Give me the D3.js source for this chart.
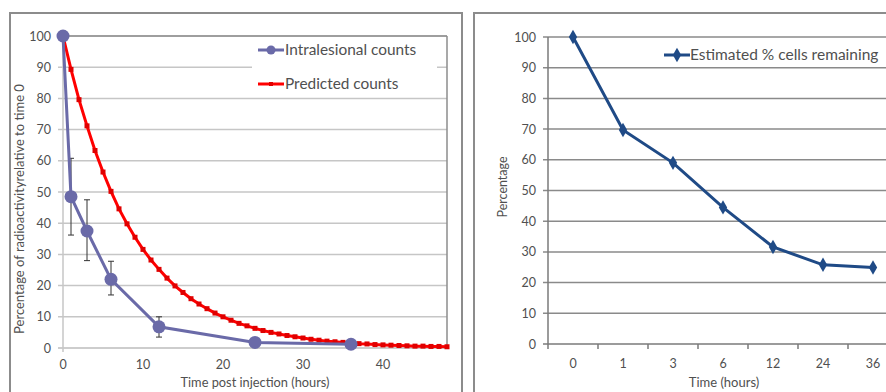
<!DOCTYPE html>
<html>
<head>
<meta charset="utf-8">
<script src="https://cdn.jsdelivr.net/npm/d3@7"></script>
<style>
  body { margin: 0; background: #fff; }
  text { font-family: Lato, "Open Sans", sans-serif; }
</style>
</head>
<body>
<svg id="chart" width="886" height="392"></svg>
<script>
// left chart: intralesional counts (hours, percent, error low, error high)
var obsHours = [0, 1, 3, 6, 12, 24, 36];
var obsValues = [100, 48.5, 37.5, 22, 6.8, 1.8, 1.2];
var obsLow = [100, 36.2, 28, 17, 3.5, 1.8, 1.2];
var obsHigh = [100, 60.8, 47.5, 27.8, 10, 1.8, 1.2];

// predicted counts, one marker per hour 0..48
var predValues = [100, 89.3, 79.6, 71.2, 63.3, 56.4, 50.2, 44.6, 39.8, 35.5, 31.6,
  28.2, 25.2, 22.4, 19.9, 17.8, 15.8, 14.1, 12.6, 11.2, 10, 8.9, 7.9, 7.1, 6.3,
  5.6, 5, 4.5, 4, 3.6, 3.2, 2.8, 2.5, 2.2, 2, 1.8, 1.6, 1.4, 1.3, 1.1, 1,
  0.9, 0.8, 0.7, 0.6, 0.6, 0.5, 0.5, 0.4];

var leftXTicks = [0, 10, 20, 30, 40];
var yTicks = [0, 10, 20, 30, 40, 50, 60, 70, 80, 90, 100];

// right chart: estimated % cells remaining
var timeLabels = ["0", "1", "3", "6", "12", "24", "36"];
var cellsRemaining = [100, 69.7, 59, 44.5, 31.6, 25.8, 24.9];

var txt = "#505050";
var svg = d3.select("#chart");

// frames
var frame = svg.append("g").attr("fill", "none").attr("stroke", "#8c8c8c").attr("stroke-width", 2);
frame.append("path").attr("d", "M10,392 L10,13 L462,13 L462,392");
frame.append("path").attr("d", "M474,392 L474,13 L886,13");

// ---------- left chart ----------
var lx = d3.scaleLinear().domain([0, 48]).range([63, 447]);
var ly = d3.scaleLinear().domain([0, 100]).range([348, 36]);

var left = svg.append("g");

left.selectAll(".lgrid")
    .data(yTicks)
    .enter()
    .append("line")
    .attr("x1", 58)
    .attr("x2", 447)
    .attr("y1", function (d) { return ly(d); })
    .attr("y2", function (d) { return ly(d); })
    .attr("stroke", function (d) { return d == 0 ? "#bdbdbd" : "#c6c6c6"; })
    .attr("stroke-width", 1.5);

left.append("line")
    .attr("x1", 63).attr("x2", 63).attr("y1", 36).attr("y2", 352)
    .attr("stroke", "#c6c6c6").attr("stroke-width", 1.5);
left.append("line")
    .attr("x1", 447).attr("x2", 447).attr("y1", 36).attr("y2", 348)
    .attr("stroke", "#8c8c8c").attr("stroke-width", 1.5);
left.append("line")
    .attr("x1", 63).attr("x2", 447).attr("y1", 36).attr("y2", 36)
    .attr("stroke", "#8c8c8c").attr("stroke-width", 1.5);

left.selectAll(".lytick")
    .data(yTicks)
    .enter()
    .append("text")
    .attr("x", 51)
    .attr("y", function (d) { return ly(d) + 4.5; })
    .attr("text-anchor", "end")
    .attr("font-size", 12.5)
    .attr("fill", txt)
    .text(function (d) { return d; });

left.selectAll(".lxtick")
    .data(leftXTicks)
    .enter()
    .append("text")
    .attr("x", function (d) { return lx(d); })
    .attr("y", 369)
    .attr("text-anchor", "middle")
    .attr("font-size", 12.5)
    .attr("fill", txt)
    .text(function (d) { return d; });

left.append("text")
    .attr("x", 255).attr("y", 387)
    .attr("text-anchor", "middle")
    .attr("font-size", 12.8)
    .attr("fill", txt)
    .text("Time post injection (hours)");

left.append("text")
    .attr("transform", "translate(24,209) rotate(-90)")
    .attr("text-anchor", "middle")
    .attr("font-size", 13)
    .attr("fill", txt)
    .text("Percentage of radioactivityrelative to time 0");

// predicted
var predLine = d3.line()
    .x(function (d, i) { return lx(i); })
    .y(function (d) { return ly(d); });

left.append("path")
    .datum(predValues)
    .attr("d", predLine)
    .attr("fill", "none")
    .attr("stroke", "#ff0000")
    .attr("stroke-width", 3);

left.selectAll(".pm")
    .data(predValues)
    .enter()
    .append("rect")
    .attr("x", function (d, i) { return lx(i) - 2.5; })
    .attr("y", function (d) { return ly(d) - 2.5; })
    .attr("width", 5)
    .attr("height", 5)
    .attr("fill", "#e00000");

// error bars
var errs = left.append("g").attr("stroke", "#333").attr("stroke-width", 1);
for (var i = 0; i < obsHours.length; i++) {
    if (obsHigh[i] - obsLow[i] < 1) continue;
    var ex = lx(obsHours[i]);
    errs.append("line").attr("x1", ex).attr("x2", ex).attr("y1", ly(obsLow[i])).attr("y2", ly(obsHigh[i]));
    errs.append("line").attr("x1", ex - 3).attr("x2", ex + 3).attr("y1", ly(obsLow[i])).attr("y2", ly(obsLow[i]));
    errs.append("line").attr("x1", ex - 3).attr("x2", ex + 3).attr("y1", ly(obsHigh[i])).attr("y2", ly(obsHigh[i]));
}

var obsLine = d3.line()
    .x(function (d, i) { return lx(obsHours[i]); })
    .y(function (d) { return ly(d); });

left.append("path")
    .datum(obsValues)
    .attr("d", obsLine)
    .attr("fill", "none")
    .attr("stroke", "#6a6aa8")
    .attr("stroke-width", 3);

left.selectAll(".om")
    .data(obsValues)
    .enter()
    .append("circle")
    .attr("cx", function (d, i) { return lx(obsHours[i]); })
    .attr("cy", function (d) { return ly(d); })
    .attr("r", 6.5)
    .attr("fill", "#6a6aa8");

// legend
var lg = left.append("g");
lg.append("rect").attr("x", 252).attr("y", 38).attr("width", 185).attr("height", 58).attr("fill", "#fff");
lg.append("line").attr("x1", 258).attr("x2", 284).attr("y1", 50).attr("y2", 50)
    .attr("stroke", "#6a6aa8").attr("stroke-width", 3);
lg.append("circle").attr("cx", 271).attr("cy", 50).attr("r", 4.5).attr("fill", "#6a6aa8");
lg.append("text").attr("x", 285).attr("y", 55).attr("font-size", 15.4).attr("fill", txt)
    .text("Intralesional counts");
lg.append("line").attr("x1", 258).attr("x2", 284).attr("y1", 84).attr("y2", 84)
    .attr("stroke", "#ff0000").attr("stroke-width", 3);
lg.append("rect").attr("x", 269).attr("y", 82).attr("width", 4).attr("height", 4).attr("fill", "#e00000");
lg.append("text").attr("x", 285).attr("y", 89).attr("font-size", 15.4).attr("fill", txt)
    .text("Predicted counts");

// ---------- right chart ----------
var rx = d3.scaleBand().domain(timeLabels).range([548, 898]);
var ry = d3.scaleLinear().domain([0, 100]).range([344, 37]);

var right = svg.append("g");

right.selectAll(".rgrid")
    .data(yTicks)
    .enter()
    .append("line")
    .attr("x1", 543)
    .attr("x2", 886)
    .attr("y1", function (d) { return ry(d); })
    .attr("y2", function (d) { return ry(d); })
    .attr("stroke", function (d) { return d == 0 ? "#7a7a7a" : "#8a8a8a"; })
    .attr("stroke-width", 1.5);

right.append("line")
    .attr("x1", 548).attr("x2", 548).attr("y1", 37).attr("y2", 344)
    .attr("stroke", "#7a7a7a").attr("stroke-width", 1.5);

right.selectAll(".rxt")
    .data(timeLabels.concat(["end"]))
    .enter()
    .append("line")
    .attr("x1", function (d) { return d == "end" ? 898 : rx(d); })
    .attr("x2", function (d) { return d == "end" ? 898 : rx(d); })
    .attr("y1", 344)
    .attr("y2", 349)
    .attr("stroke", "#7a7a7a")
    .attr("stroke-width", 1.5);

right.selectAll(".rytick")
    .data(yTicks)
    .enter()
    .append("text")
    .attr("x", 536)
    .attr("y", function (d) { return ry(d) + 4.5; })
    .attr("text-anchor", "end")
    .attr("font-size", 12.5)
    .attr("fill", txt)
    .text(function (d) { return d; });

right.selectAll(".rxtick")
    .data(timeLabels)
    .enter()
    .append("text")
    .attr("x", function (d) { return rx(d) + rx.bandwidth() / 2; })
    .attr("y", 368)
    .attr("text-anchor", "middle")
    .attr("font-size", 12.5)
    .attr("fill", txt)
    .text(function (d) { return d; });

right.append("text")
    .attr("x", 724).attr("y", 387)
    .attr("text-anchor", "middle")
    .attr("font-size", 13)
    .attr("fill", txt)
    .text("Time (hours)");

right.append("text")
    .attr("transform", "translate(507,187) rotate(-90)")
    .attr("text-anchor", "middle")
    .attr("font-size", 12.5)
    .attr("fill", txt)
    .text("Percentage");

var cellLine = d3.line()
    .x(function (d, i) { return rx(timeLabels[i]) + rx.bandwidth() / 2; })
    .y(function (d) { return ry(d); });

right.append("path")
    .datum(cellsRemaining)
    .attr("d", cellLine)
    .attr("fill", "none")
    .attr("stroke", "#1f4a86")
    .attr("stroke-width", 3);

var diamond = d3.symbol().type(d3.symbolDiamond).size(60);
right.selectAll(".cm")
    .data(cellsRemaining)
    .enter()
    .append("path")
    .attr("d", diamond)
    .attr("transform", function (d, i) {
        return "translate(" + (rx(timeLabels[i]) + rx.bandwidth() / 2) + "," + ry(d) + ")";
    })
    .attr("fill", "#1f4a86");

var rl = right.append("g");
rl.append("rect").attr("x", 662).attr("y", 44).attr("width", 224).attr("height", 22).attr("fill", "#fff");
rl.append("line").attr("x1", 664).attr("x2", 690).attr("y1", 55).attr("y2", 55)
    .attr("stroke", "#1f4a86").attr("stroke-width", 3);
rl.append("path").attr("d", diamond).attr("transform", "translate(677,55)").attr("fill", "#1f4a86");
rl.append("text").attr("x", 690).attr("y", 60).attr("font-size", 15.5).attr("fill", txt)
    .text("Estimated % cells remaining");
</script>
</body>
</html>
